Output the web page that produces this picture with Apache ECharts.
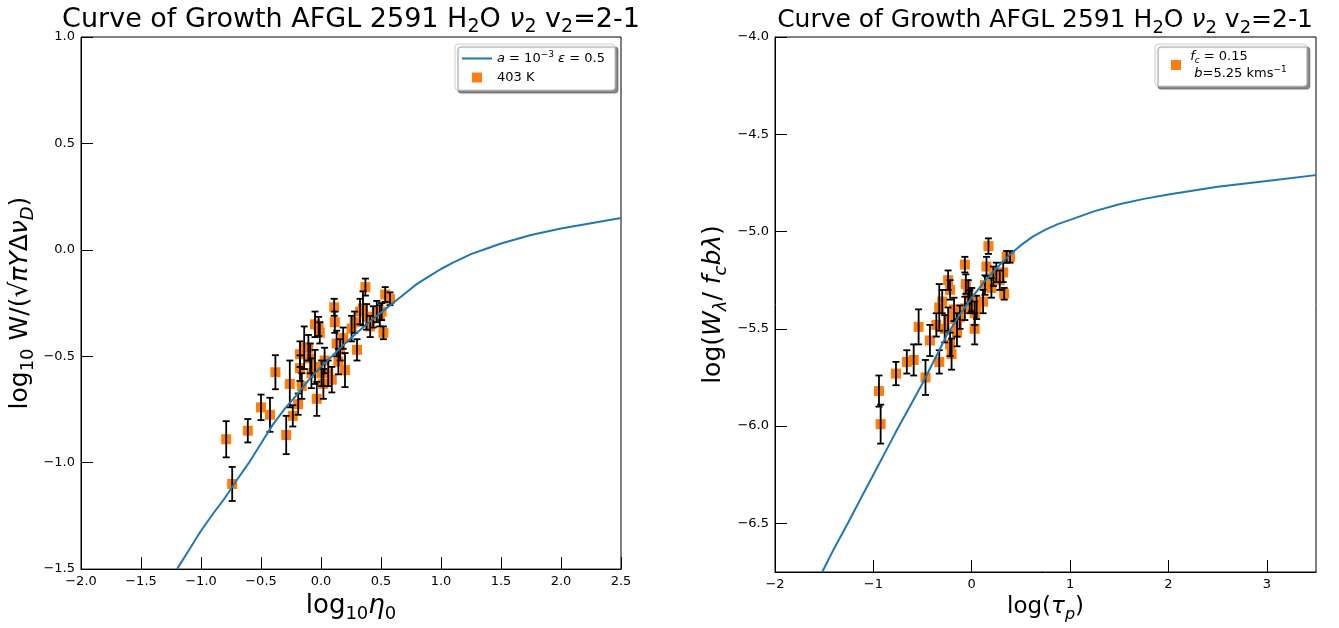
<!DOCTYPE html>
<html>
<head>
<meta charset="utf-8">
<script src="https://cdn.jsdelivr.net/npm/echarts@6/dist/echarts.min.js"></script>
<style>html,body{margin:0;padding:0;background:#fff}#c{width:1339px;height:628px}</style>
</head>
<body>
<div id="c"></div>
<script>
// ---------------- DATA ----------------
// Left panel: curve of growth
const leftCurveX = [-1.2, -1.1, -1.0, -0.9, -0.8, -0.7, -0.6, -0.5, -0.4, -0.3, -0.2, -0.1, 0.0, 0.1, 0.2, 0.3, 0.4, 0.5, 0.6, 0.7, 0.8, 0.9, 1.0, 1.1, 1.25, 1.4, 1.5, 1.75, 2.0, 2.25, 2.5];
const leftCurveY = [-1.50, -1.41, -1.32, -1.24, -1.165, -1.08, -1.00, -0.91, -0.82, -0.745, -0.68, -0.61, -0.55, -0.495, -0.44, -0.39, -0.34, -0.295, -0.25, -0.205, -0.16, -0.125, -0.09, -0.06, -0.02, 0.01, 0.03, 0.07, 0.10, 0.125, 0.15];
// Left panel: 403 K points
const leftX   = [-0.79, -0.74, -0.61, -0.50, -0.425, -0.38, -0.29, -0.26, -0.235, -0.19, -0.175, -0.175, -0.16, -0.14, -0.105, -0.09, -0.08, -0.05, -0.05, -0.035, -0.02, -0.01, 0.005, 0.02, 0.03, 0.06, 0.09, 0.11, 0.115, 0.13, 0.145, 0.16, 0.185, 0.20, 0.255, 0.28, 0.30, 0.325, 0.35, 0.37, 0.38, 0.41, 0.435, 0.465, 0.49, 0.505, 0.52, 0.535, 0.575];
const leftY   = [-0.89, -1.10, -0.85, -0.74, -0.775, -0.575, -0.87, -0.63, -0.78, -0.725, -0.49, -0.556, -0.64, -0.46, -0.46, -0.51, -0.58, -0.55, -0.35, -0.70, -0.36, -0.39, -0.58, -0.63, -0.52, -0.58, -0.61, -0.27, -0.34, -0.44, -0.525, -0.47, -0.415, -0.565, -0.37, -0.34, -0.47, -0.29, -0.275, -0.175, -0.315, -0.36, -0.315, -0.29, -0.31, -0.29, -0.39, -0.21, -0.23];
const leftErr = [0.085, 0.08, 0.055, 0.06, 0.08, 0.08, 0.09, 0.11, 0.05, 0.05, 0.06, 0.06, 0.06, 0.10, 0.06, 0.07, 0.07, 0.08, 0.06, 0.08, 0.045, 0.05, 0.06, 0.07, 0.06, 0.06, 0.06, 0.04, 0.05, 0.06, 0.06, 0.05, 0.05, 0.08, 0.06, 0.05, 0.05, 0.06, 0.08, 0.04, 0.06, 0.05, 0.05, 0.05, 0.05, 0.04, 0.03, 0.035, 0.03];
// Right panel: curve
const rightCurveX = [-1.52, -1.4, -1.25, -1.1, -1.0, -0.875, -0.75, -0.625, -0.5, -0.375, -0.25, -0.125, 0.0, 0.125, 0.25, 0.375, 0.5, 0.625, 0.75, 0.875, 1.0, 1.25, 1.5, 1.75, 2.0, 2.5, 3.0, 3.5];
const rightCurveY = [-6.75, -6.63, -6.49, -6.345, -6.25, -6.13, -6.01, -5.895, -5.78, -5.655, -5.53, -5.43, -5.34, -5.26, -5.19, -5.125, -5.07, -5.025, -4.99, -4.962, -4.94, -4.895, -4.86, -4.832, -4.81, -4.77, -4.74, -4.71];
// Right panel: points
const rightX   = [-0.943, -0.926, -0.77, -0.66, -0.59, -0.54, -0.47, -0.425, -0.36, -0.33, -0.33, -0.30, -0.275, -0.24, -0.24, -0.22, -0.22, -0.205, -0.18, -0.15, -0.15, -0.12, -0.07, -0.07, -0.06, -0.035, -0.02, 0.0, 0.03, 0.03, 0.05, 0.115, 0.135, 0.15, 0.17, 0.20, 0.22, 0.25, 0.285, 0.32, 0.33, 0.355, 0.39];
const rightY   = [-5.82, -5.99, -5.73, -5.67, -5.66, -5.49, -5.75, -5.56, -5.48, -5.67, -5.39, -5.36, -5.50, -5.25, -5.45, -5.30, -5.58, -5.63, -5.40, -5.52, -5.48, -5.44, -5.17, -5.395, -5.27, -5.31, -5.36, -5.35, -5.50, -5.42, -5.39, -5.36, -5.275, -5.18, -5.075, -5.29, -5.23, -5.21, -5.25, -5.21, -5.32, -5.13, -5.13];
const rightErr = [0.08, 0.10, 0.06, 0.06, 0.08, 0.09, 0.09, 0.08, 0.06, 0.06, 0.12, 0.06, 0.07, 0.05, 0.06, 0.05, 0.06, 0.08, 0.06, 0.07, 0.06, 0.06, 0.04, 0.06, 0.05, 0.06, 0.06, 0.06, 0.08, 0.06, 0.06, 0.06, 0.05, 0.05, 0.04, 0.05, 0.05, 0.05, 0.05, 0.05, 0.03, 0.03, 0.03];
// Tick values
const rightXTicks = [-2, -1, 0, 1, 2, 3];
const rightYTicks = [-6.5, -6.0, -5.5, -5.0, -4.5, -4.0];

// ---------------- CHART ----------------
const FONT = 'DejaVu Sans';
function rich(base) {
  const sub = Math.round(base * 0.7), lh = Math.round(base * 1.3);
  const b = {fontFamily: FONT, color: '#000', fontWeight: 'normal'};
  return {
    n: Object.assign({}, b, {fontSize: base, lineHeight: lh}),
    i: Object.assign({}, b, {fontSize: base, lineHeight: lh, fontStyle: 'italic'}),
    s: Object.assign({}, b, {fontSize: sub, lineHeight: sub, verticalAlign: 'bottom'}),
    si: Object.assign({}, b, {fontSize: sub, lineHeight: sub, verticalAlign: 'bottom', fontStyle: 'italic'}),
    u: Object.assign({}, b, {fontSize: sub, lineHeight: sub, verticalAlign: 'top'})
  };
}
const minus = s => String(s).replace('-', '\u2212');
const zip3 = (a, b, c) => a.map((v, i) => [v, b[i], c[i]]);
const zip2 = (a, b) => a.map((v, i) => [v, b[i]]);

function errRender(params, api) {
  const x = api.value(0), y = api.value(1), e = api.value(2);
  const t = api.coord([x, y + e]), bt = api.coord([x, y - e]);
  const cw = 3.5;
  const st = {stroke: '#000', lineWidth: 1.8};
  return {type: 'group', children: [
    {type: 'line', shape: {x1: t[0], y1: t[1], x2: bt[0], y2: bt[1]}, style: st},
    {type: 'line', shape: {x1: t[0] - cw, y1: t[1], x2: t[0] + cw, y2: t[1]}, style: st},
    {type: 'line', shape: {x1: bt[0] - cw, y1: bt[1], x2: bt[0] + cw, y2: bt[1]}, style: st}
  ]};
}

const titleText = '{n|Curve of Growth AFGL 2591 H}{s|2}{n|O }{i|ν}{s|2}{n| v}{s|2}{n|=2-1}';
const axisCommon = {
  axisLine: {show: true, onZero: false, lineStyle: {color: '#000', width: 1}},
  axisTick: {show: true, inside: true, length: 12, lineStyle: {color: '#000', width: 1}},
  axisLabel: {color: '#000', fontFamily: FONT, fontSize: 13, margin: 6},
  splitLine: {show: false},
  nameLocation: 'middle'
};
function ax(extra) { return echarts.util.merge(echarts.util.clone(axisCommon), extra, true); }

const squareIcon = 'path://M0 0H10V10H0Z';
const lineIcon = 'path://M0 0H30V2H0Z';

const option = {
  animation: false,
  backgroundColor: '#fff',
  title: [
    {text: titleText, left: 351, top: 2, textAlign: 'center', padding: 0,
      textStyle: {fontWeight: 'normal', rich: rich(27)}},
    {text: titleText, left: 1045, top: 4, textAlign: 'center', padding: 0,
      textStyle: {fontWeight: 'normal', rich: rich(25)}}
  ],
  grid: [
    {left: 81, top: 37, width: 540, height: 535, containLabel: false, show: true, borderColor: '#000', borderWidth: 1},
    {left: 775, top: 37, width: 541, height: 535, containLabel: false, show: true, borderColor: '#000', borderWidth: 1}
  ],
  xAxis: [
    ax({gridIndex: 0, type: 'value', min: -2, max: 2.5, interval: 0.5,
      axisLabel: {formatter: v => minus(v.toFixed(1))},
      name: '{n|log}{s|10}{i|η}{s|0}', nameGap: 16, nameTextStyle: {rich: rich(26)}}),
    ax({gridIndex: 1, type: 'value', min: -2, max: 3.5,
      axisTick: {customValues: rightXTicks},
      axisLabel: {customValues: rightXTicks, formatter: v => minus(Math.round(v))},
      name: '{n|log(}{i|τ}{si|p}{n|)}', nameGap: 16, nameTextStyle: {rich: rich(23)}})
  ],
  yAxis: [
    ax({gridIndex: 0, type: 'value', min: -1.5, max: 1.0, interval: 0.5,
      axisLabel: {formatter: v => minus(v.toFixed(1))},
      name: '{n|log}{s|10}{n| W/(√}{i|πY}{n|Δ}{i|ν}{si|D}{n|)}', nameGap: 44, nameTextStyle: {rich: rich(25)}}),
    ax({gridIndex: 1, type: 'value', min: -6.75, max: -4.0,
      axisTick: {customValues: rightYTicks},
      axisLabel: {customValues: rightYTicks, formatter: v => minus(v.toFixed(1))},
      name: '{n|log(}{i|W}{si|λ}{n|/ }{i|f}{si|c}{i|bλ}{n|)}', nameGap: 45, nameTextStyle: {rich: rich(25)}})
  ],
  legend: [
    {
      left: 455, top: 44, orient: 'vertical', selectedMode: false,
      data: [{name: 'a', icon: lineIcon}, {name: '403 K', icon: squareIcon}],
      itemWidth: 30, itemHeight: 10, itemGap: 6, padding: [6, 10, 6, 7],
      backgroundColor: '#fff', borderColor: '#cccccc', borderWidth: 1, borderRadius: 3,
      shadowColor: 'rgba(0,0,0,0.45)', shadowBlur: 1, shadowOffsetX: 3, shadowOffsetY: 3,
      textStyle: {fontFamily: FONT, fontSize: 13, color: '#000', rich: rich(13)},
      formatter: name => name === 'a' ? '{i|a}{n| = 10}{u|−3}{n| }{i|ε}{n| = 0.5}' : '{n|403 K}'
    },
    {
      left: 1155, top: 44, orient: 'vertical', selectedMode: false,
      data: [{name: 'fc', icon: squareIcon}],
      itemWidth: 10, itemHeight: 10, padding: [6, 20, 6, 16],
      backgroundColor: '#fff', borderColor: '#cccccc', borderWidth: 1, borderRadius: 3,
      shadowColor: 'rgba(0,0,0,0.45)', shadowBlur: 1, shadowOffsetX: 3, shadowOffsetY: 3,
      textStyle: {fontFamily: FONT, fontSize: 13, color: '#000', rich: rich(13)},
      formatter: () => '{n| }{i|f}{si|c}{n| = 0.15}\n{n|  }{i|b}{n|=5.25 kms}{u|−1}'
    }
  ],
  series: [
    {type: 'scatter', name: '403 K', xAxisIndex: 0, yAxisIndex: 0, symbol: 'rect', symbolSize: 10,
      itemStyle: {color: '#ff7f0e', opacity: 1}, z: 2, data: zip2(leftX, leftY)},
    {type: 'custom', name: 'errL', xAxisIndex: 0, yAxisIndex: 0, z: 3, renderItem: errRender,
      encode: {x: 0, y: 1}, data: zip3(leftX, leftY, leftErr)},
    {type: 'line', name: 'a', xAxisIndex: 0, yAxisIndex: 0, symbol: 'none', smooth: false,
      lineStyle: {color: '#1f77b4', width: 2}, itemStyle: {color: '#1f77b4'}, z: 4, data: zip2(leftCurveX, leftCurveY)},
    {type: 'scatter', name: 'fc', xAxisIndex: 1, yAxisIndex: 1, symbol: 'rect', symbolSize: 10,
      itemStyle: {color: '#ff7f0e', opacity: 1}, z: 2, data: zip2(rightX, rightY)},
    {type: 'custom', name: 'errR', xAxisIndex: 1, yAxisIndex: 1, z: 3, renderItem: errRender,
      encode: {x: 0, y: 1}, data: zip3(rightX, rightY, rightErr)},
    {type: 'line', name: 'curveR', xAxisIndex: 1, yAxisIndex: 1, symbol: 'none', smooth: false,
      lineStyle: {color: '#1f77b4', width: 2}, z: 4, data: zip2(rightCurveX, rightCurveY)}
  ]
};
const chart = echarts.init(document.getElementById('c'), null, {renderer: 'canvas'});
chart.setOption(option);
</script>
</body>
</html>
